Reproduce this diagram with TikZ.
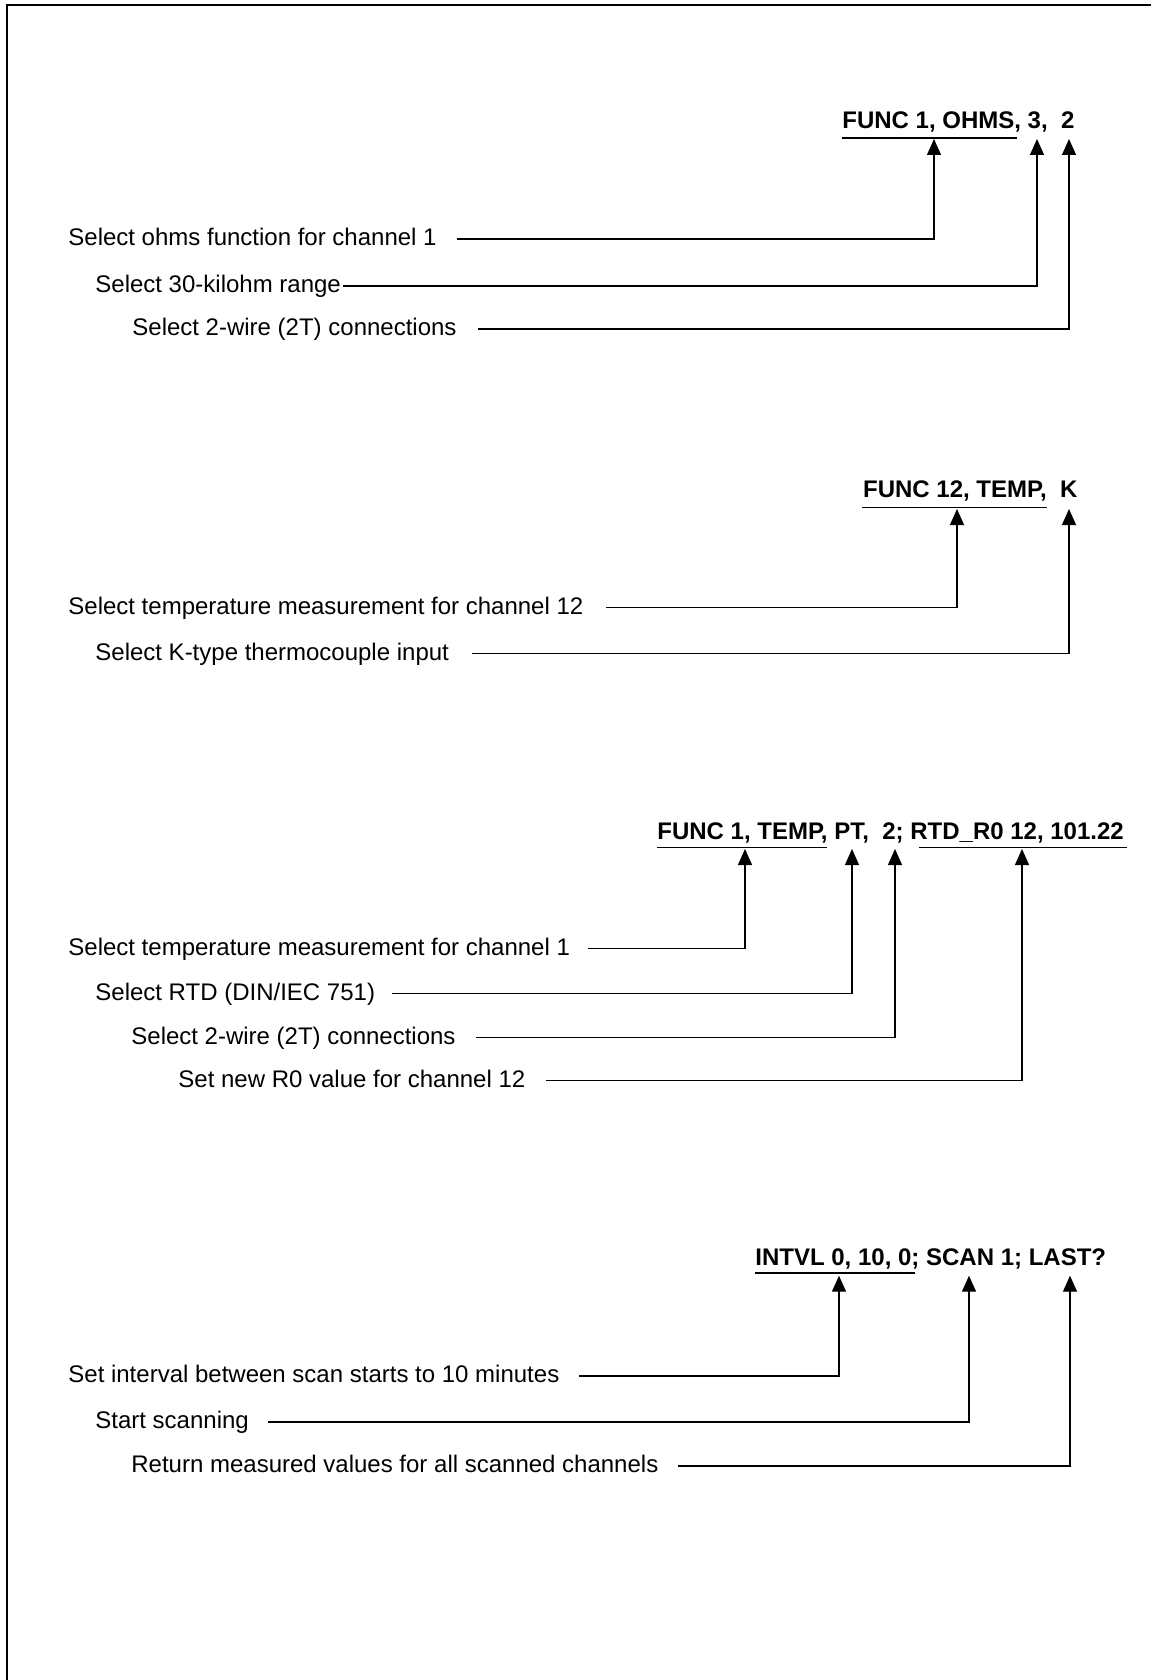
\documentclass[tikz,border=0pt]{standalone}
\usepackage{fontspec}
\setmainfont{Liberation Sans}
\usetikzlibrary{arrows.meta}
\frenchspacing
\tikzset{
  lbl/.style={anchor=base west, inner sep=0pt, font=\fontsize{12}{14}\selectfont},
  cmd/.style={anchor=base west, inner sep=0pt, font=\fontsize{12}{14}\selectfont\bfseries},
  conn/.style={line width=0.65pt, -{Triangle[width=7pt,length=8pt]}},
  uline/.style={line width=0.7pt},
  frame/.style={line width=1.1pt}
}
\begin{document}
\begin{tikzpicture}[x=0.5pt,y=-0.5pt]
\useasboundingbox (0,0) rectangle (1151,1680);
\draw[frame] (1151,5) -- (7,5) -- (7,1680);

% ---------- Section 1 ----------
\node[cmd] (t1) at (842,129) {FUNC 1, OHMS, 3,\ \ 2};
\coordinate (u1a) at (842,138);
\coordinate (u1b) at (1017,138);
\draw[uline] (u1a) -- (u1b);
\coordinate (a11) at (934,139);
\coordinate (a12) at (1037,139);
\coordinate (a13) at (1069,139);
\node[lbl] (l11) at (68,245.5) {Select ohms function for channel 1};
\node[lbl] (l12) at (95,292.5) {Select 30-kilohm range};
\node[lbl] (l13) at (132,335.5) {Select 2-wire (2T) connections};
\coordinate (s11) at (457,239);
\coordinate (s12) at (343,286);
\coordinate (s13) at (478,329);
\draw[conn] (s11) -| (a11);
\draw[conn] (s12) -| (a12);
\draw[conn] (s13) -| (a13);

% ---------- Section 2 ----------
\node[cmd] (t2) at (862.7,497.7) {FUNC 12, TEMP,\ \ K};
\coordinate (u2a) at (862,507.7);
\coordinate (u2b) at (1047,507.7);
\draw[uline] (u2a) -- (u2b);
\coordinate (a21) at (957,509);
\coordinate (a22) at (1069,509);
\node[lbl] (l21) at (68,614) {Select temperature measurement for channel 12};
\node[lbl] (l22) at (95,660) {Select K-type thermocouple input};
\coordinate (s21) at (606,607.6);
\coordinate (s22) at (472,653.7);
\draw[conn] (s21) -| (a21);
\draw[conn] (s22) -| (a22);

% ---------- Section 3 ----------
\node[cmd] (t3) at (657,839) {FUNC 1, TEMP, PT,\ \ 2; RTD\_R0 12, 101.22};
\coordinate (u3a) at (657,847.7);
\coordinate (u3b) at (827,847.7);
\coordinate (u3c) at (918.7,847.7);
\coordinate (u3d) at (1127,847.7);
\draw[uline] (u3a) -- (u3b);
\draw[uline] (u3c) -- (u3d);
\coordinate (a31) at (745,849);
\coordinate (a32) at (852,849);
\coordinate (a33) at (895,849);
\coordinate (a34) at (1022,849);
\node[lbl] (l31) at (68,955) {Select temperature measurement for channel 1};
\node[lbl] (l32) at (95,1000) {Select RTD (DIN/IEC 751)};
\node[lbl] (l33) at (131,1044) {Select 2-wire (2T) connections};
\node[lbl] (l34) at (178,1087) {Set new R0 value for channel 12};
\coordinate (s31) at (588,948.5);
\coordinate (s32) at (392,993.5);
\coordinate (s33) at (476,1037.4);
\coordinate (s34) at (546,1080.3);
\draw[conn] (s31) -| (a31);
\draw[conn] (s32) -| (a32);
\draw[conn] (s33) -| (a33);
\draw[conn] (s34) -| (a34);

% ---------- Section 4 ----------
\node[cmd] (t4) at (755,1265.7) {INTVL 0, 10, 0; SCAN 1; LAST?};
\coordinate (u4a) at (755,1273);
\coordinate (u4b) at (915,1273);
\draw[uline] (u4a) -- (u4b);
\coordinate (a41) at (839,1275.7);
\coordinate (a42) at (969,1275.7);
\coordinate (a43) at (1070,1275.7);
\node[lbl] (l41) at (68,1382.5) {Set interval between scan starts to 10 minutes};
\node[lbl] (l42) at (95,1428.5) {Start scanning};
\node[lbl] (l43) at (131,1472.5) {Return measured values for all scanned channels};
\coordinate (s41) at (579,1376);
\coordinate (s42) at (268,1422);
\coordinate (s43) at (678,1466);
\draw[conn] (s41) -| (a41);
\draw[conn] (s42) -| (a42);
\draw[conn] (s43) -| (a43);
\end{tikzpicture}
\end{document}
